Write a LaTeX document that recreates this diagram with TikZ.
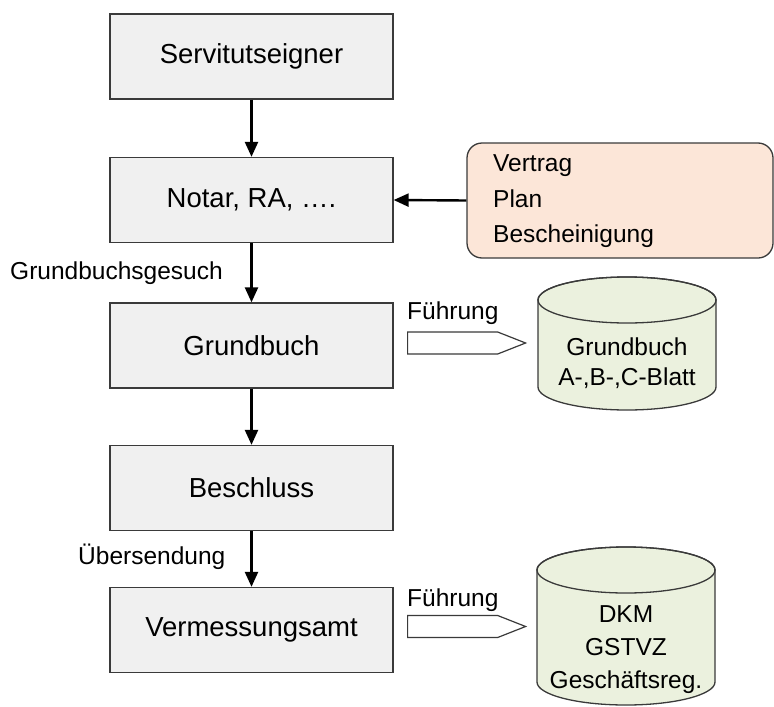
\documentclass[tikz,border=0pt]{standalone}
\usepackage{fontspec}
\setmainfont{Liberation Sans}
\usetikzlibrary{arrows.meta,shapes.symbols}
\definecolor{boxfill}{HTML}{F0F0F0}
\definecolor{boxline}{HTML}{3A3A3A}
\definecolor{peach}{HTML}{FCE6D8}
\definecolor{cylfill}{HTML}{EBF1DE}
\tikzset{
  procbox/.style={draw=boxline, line width=1.3pt, fill=boxfill, minimum width=283pt, minimum height=85pt, inner sep=0pt, font=\fontsize{27.5}{32}\selectfont},
  flow/.style={line width=2.4pt, -{Triangle[length=15pt, width=13pt]}},
  lbl/.style={inner sep=0pt, anchor=west, font=\fontsize{24.5}{30}\selectfont},
  fuehr/.style={signal, signal to=east, signal pointer angle=43, draw=boxline, line width=1.2pt, fill=white, minimum width=118pt, minimum height=22pt, inner sep=0pt, anchor=west},
  cyl/.style={draw=boxline, line width=1.3pt, fill=cylfill},
  cyltext/.style={inner sep=0pt, align=center, font=\fontsize{24.5}{30}\selectfont}
}
\begin{document}
\begin{tikzpicture}[x=1pt,y=-1pt]
\useasboundingbox (0,0) rectangle (774,707);
% process boxes
\node[procbox] (b1) at (251.5,56.5) {Servitutseigner};
\node[procbox] (b2) at (251.5,200) {Notar, RA, \dots.};
\node[procbox] (b3) at (251.5,345.5) {Grundbuch};
\node[procbox] (b4) at (251.5,488) {Beschluss};
\node[procbox] (b5) at (251.5,630) {Vermessungsamt};
% documents box
\node[draw=boxline, line width=1.3pt, fill=peach, rounded corners=15pt, minimum width=306pt, minimum height=115pt, inner sep=0pt] (docs) at (620,200.5) {};
\node[inner sep=0pt, anchor=west, align=left, font=\fontsize{24.5}{35.5}\selectfont] (doctext) at (493,201.5) {Vertrag\\Plan\\Bescheinigung};
% connectors
\draw[flow] (b1.south) -- (b2.north);
\draw[flow] (b2.south) -- (b3.north);
\draw[flow] (b3.south) -- (b4.north);
\draw[flow] (b4.south) -- (b5.north);
\draw[flow] (docs.west) -- (b2.east);
% labels
\node[lbl] (l1) at (10,273) {Grundbuchsgesuch};
\node[lbl] (l2) at (78,557) {Übersendung};
\node[lbl] (f1) at (407,313) {Führung};
\node[lbl] (f2) at (407,600) {Führung};
% Fuehrung arrows
\node[fuehr] (s1) at (407,343) {};
\node[fuehr] (s2) at (407,626.5) {};
% cylinder 1
\path[cyl] (538,300) -- (538,387) arc[start angle=180, end angle=0, x radius=89, y radius=23] -- (716,300) arc[start angle=0, end angle=-180, x radius=89, y radius=23] -- cycle;
\draw[boxline, line width=1.3pt] (627,300) ellipse[x radius=89, y radius=23];
\node[cyltext] (c1) at (627,363) {Grundbuch\\A-,B-,C-Blatt};
% cylinder 2
\path[cyl] (537,570) -- (537,682) arc[start angle=180, end angle=0, x radius=89, y radius=23] -- (715,570) arc[start angle=0, end angle=-180, x radius=89, y radius=23] -- cycle;
\draw[boxline, line width=1.3pt] (626,570) ellipse[x radius=89, y radius=23];
\node[cyltext, font=\fontsize{24.5}{33}\selectfont] (c2) at (626,650) {DKM\\GSTVZ\\Geschäftsreg.};
\end{tikzpicture}
\end{document}
